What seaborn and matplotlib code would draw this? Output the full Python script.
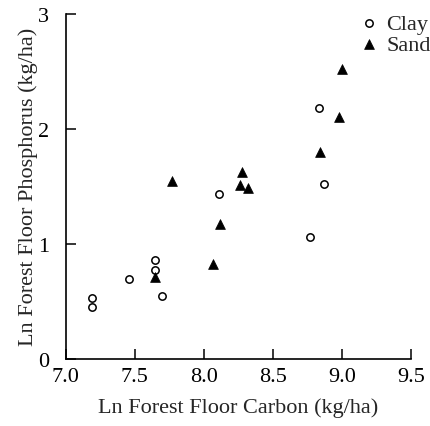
import pandas as pd
import seaborn as sns
import matplotlib.pyplot as plt

# values
clay_carbon = [7.19, 7.19, 7.46, 7.65, 7.65, 7.70, 8.11, 8.77, 8.83, 8.87]
clay_phos = [0.53, 0.45, 0.69, 0.86, 0.77, 0.54, 1.43, 1.06, 2.18, 1.52]
sand_carbon = [7.645, 7.77, 8.07, 8.12, 8.26, 8.28, 8.32, 8.84, 8.98, 9.00]
sand_phos = [0.71, 1.545, 0.82, 1.17, 1.51, 1.62, 1.48, 1.80, 2.10, 2.52]
x_ticks = [7.0, 7.5, 8.0, 8.5, 9.0, 9.5]
y_ticks = [0, 1, 2, 3]

clay = pd.DataFrame({'carbon': clay_carbon, 'phos': clay_phos})
sand = pd.DataFrame({'carbon': sand_carbon, 'phos': sand_phos})

sns.set_style('ticks')
plt.rcParams['font.family'] = ['Liberation Serif', 'DejaVu Serif']

fig = plt.figure(figsize=(4.31, 4.27), dpi=100)
ax = fig.add_axes([0.152, 0.158, 0.802, 0.808])

sns.scatterplot(data=clay, x='carbon', y='phos', marker='o', s=28,
                facecolor='white', edgecolor='black', linewidth=1.1,
                label='Clay', ax=ax, zorder=3)
sns.scatterplot(data=sand, x='carbon', y='phos', marker='^', s=50,
                color='black', edgecolor='black', linewidth=0.5,
                label='Sand', ax=ax, zorder=3)

ax.set_xlim(7.0, 9.5)
ax.set_ylim(0, 3)
ax.set_xticks(x_ticks)
ax.set_xticklabels([f'{v:.1f}' for v in x_ticks])
ax.set_yticks(y_ticks)
ax.set_yticklabels([str(v) for v in y_ticks])

sns.despine(ax=ax)
for side in ['left', 'bottom']:
    ax.spines[side].set_linewidth(1.2)
    ax.spines[side].set_color('black')

ax.tick_params(axis='both', direction='in', length=7, width=1.1,
               labelsize=16, colors='black')
ax.tick_params(axis='x', pad=6)
ax.tick_params(axis='y', pad=12)

ax.set_xlabel('Ln Forest Floor Carbon (kg/ha)', fontsize=16, labelpad=8)
ax.set_ylabel('Ln Forest Floor Phosphorus (kg/ha)', fontsize=16, labelpad=0)

ax.legend(loc='upper right', bbox_to_anchor=(1.095, 1.04), frameon=False,
          fontsize=16, handletextpad=0.2, labelspacing=0.05,
          borderpad=0.1, handlelength=1.2)

fig.savefig('out.png', dpi=100)
